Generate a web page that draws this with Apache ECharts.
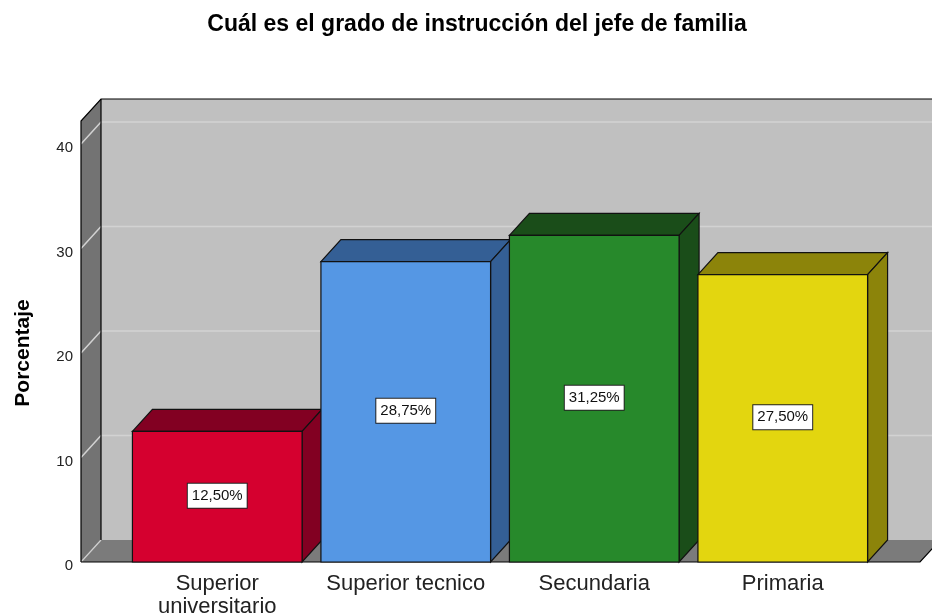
<!DOCTYPE html>
<html>
<head>
<meta charset="utf-8">
<script src="https://cdn.jsdelivr.net/npm/echarts@6/dist/echarts.min.js"></script>
<style>
  html, body { margin: 0; padding: 0; background: #fff; }
  #chart { width: 932px; height: 615px; }
</style>
</head>
<body>
<div id="chart"></div>
<script>
// Grado de instrucción — barras 3D estilo SPSS
var categories = ['Superior\nuniversitario', 'Superior tecnico', 'Secundaria', 'Primaria'];
var percentages = [12.5, 28.75, 31.25, 27.5];
var valueLabels = ['12,50%', '28,75%', '31,25%', '27,50%'];
var yTicks = [10, 20, 30, 40];
var frontColors = ['#d5002f', '#5597e4', '#27892b', '#e3d60f'];
var sideColors = ['#820022', '#345f95', '#1a4d19', '#8c840a'];

var DX = 20, DY = -22;          // profundidad 3D en pixeles
var PAD_L = 42, PAD_R = 43;     // pared mas ancha que las categorias
var WALL_TOP = 42.2;
var FONT = '"Liberation Sans", Arial, sans-serif';

function renderWalls(params, api) {
  var band = api.size([1, 0])[0];
  var c0 = api.coord([0, 0]);
  var xL = c0[0] - band / 2 - PAD_L;
  var xR = api.coord([categories.length - 1, 0])[0] + band / 2 + PAD_R;
  var y0 = c0[1];
  var yT = api.coord([0, WALL_TOP])[1];
  var children = [];
  var line = { stroke: '#000', lineWidth: 1.2, fill: null };

  children.push({ type: 'polygon', shape: { points: [[xL + DX, yT + DY], [xR + DX + 30, yT + DY], [xR + DX + 30, y0 + DY], [xL + DX, y0 + DY]] },
    style: { fill: '#c0c0c0' } });
  children.push({ type: 'polygon', shape: { points: [[xL, yT], [xL + DX, yT + DY], [xL + DX, y0 + DY], [xL, y0]] },
    style: { fill: '#737373' } });
  children.push({ type: 'polygon', shape: { points: [[xL, y0], [xL + DX, y0 + DY], [xR + DX, y0 + DY], [xR, y0]] },
    style: { fill: '#7b7b7b' } });

  yTicks.forEach(function (t) {
    var y = api.coord([0, t])[1];
    children.push({ type: 'polyline', shape: { points: [[xL, y], [xL + DX, y + DY], [xR + DX + 30, y + DY]] },
      style: { stroke: '#d2d2d2', lineWidth: 1.5, fill: null } });
  });
  children.push({ type: 'line', shape: { x1: xL, y1: y0, x2: xL + DX, y2: y0 + DY },
    style: { stroke: '#cfcfcf', lineWidth: 1.2 } });

  // contornos
  children.push({ type: 'polyline', shape: { points: [[xL, y0], [xL, yT], [xL + DX, yT + DY], [xR + DX + 30, yT + DY]] }, style: line });
  children.push({ type: 'line', shape: { x1: xL + DX, y1: yT + DY, x2: xL + DX, y2: y0 + DY }, style: line });
  children.push({ type: 'polyline', shape: { points: [[xL, y0], [xR, y0], [xR + DX, y0 + DY]] }, style: line });

  return { type: 'group', children: children };
}

function renderBar(params, api) {
  var i = api.value(0), v = api.value(1);
  var w = api.size([1, 0])[0] * 0.9;
  var base = api.coord([i, 0]);
  var top = api.coord([i, v]);
  var x0 = base[0] - w / 2, x1 = base[0] + w / 2;
  var yb = base[1], yt = top[1];
  var edge = { stroke: '#111', lineWidth: 1.2 };
  return {
    type: 'group',
    children: [
      { type: 'polygon', shape: { points: [[x0, yt], [x1, yt], [x1 + DX, yt + DY], [x0 + DX, yt + DY]] },
        style: Object.assign({ fill: sideColors[i] }, edge) },
      { type: 'polygon', shape: { points: [[x1, yt], [x1 + DX, yt + DY], [x1 + DX, yb + DY], [x1, yb]] },
        style: Object.assign({ fill: sideColors[i] }, edge) },
      { type: 'rect', shape: { x: x0, y: yt, width: w, height: yb - yt },
        style: Object.assign({ fill: frontColors[i] }, edge) },
      { type: 'text', x: base[0], y: (yt + yb) / 2 - 1,
        style: { text: valueLabels[i], align: 'center', verticalAlign: 'middle',
          font: '15px ' + FONT, fill: '#111',
          backgroundColor: '#fff', borderColor: '#222', borderWidth: 1, padding: [5, 4, 4, 4] } }
    ]
  };
}

var chart = echarts.init(document.getElementById('chart'));
chart.setOption({
  animation: false,
  title: {
    text: 'Cuál es el grado de instrucción del jefe de familia',
    left: 472, top: 8, textAlign: 'center',
    textStyle: { fontFamily: FONT, fontSize: 23, fontWeight: 'bold', color: '#000' }
  },
  grid: { left: 123, right: 55, top: 144, bottom: 53, outerBoundsMode: 'none', containLabel: false },
  xAxis: {
    type: 'category', data: categories,
    axisLine: { show: false }, axisTick: { show: false },
    axisLabel: { interval: 0, fontFamily: FONT, fontSize: 22, color: '#222', margin: 10, lineHeight: 23 }
  },
  yAxis: {
    type: 'value', min: 0, max: 40, interval: 10, offset: 42,
    name: 'Porcentaje', nameLocation: 'middle', nameGap: 47, nameRotate: 90,
    nameTextStyle: { fontFamily: FONT, fontSize: 21, fontWeight: 'bold', color: '#000' },
    axisLine: { show: false }, axisTick: { show: false }, splitLine: { show: false },
    axisLabel: {
      margin: 8,
      formatter: '{t|{value}}',
      rich: { t: { fontFamily: FONT, fontSize: 15, color: '#222', padding: [8, 0, 0, 0] } }
    }
  },
  series: [
    { type: 'custom', renderItem: renderWalls, data: [[0, 0]], silent: true, z: 1 },
    { type: 'custom', renderItem: renderBar, z: 2,
      data: percentages.map(function (p, i) { return [i, p]; }) }
  ]
});
window.addEventListener('resize', function () { chart.resize(); });
</script>
</body>
</html>
